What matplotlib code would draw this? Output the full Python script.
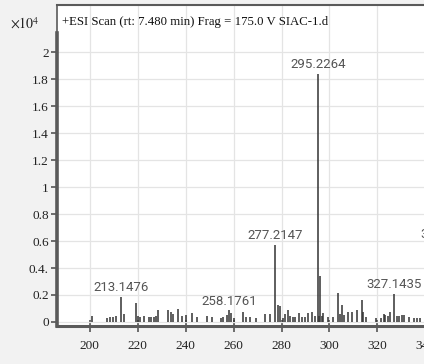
import matplotlib
matplotlib.use("Agg")
import matplotlib.pyplot as plt

# ---- data (intensity in units of 1e4 counts) ----
mz = [200.9, 207.0, 208.4, 209.7, 211.0, 213.15, 214.1, 219.1, 220.2, 220.8,
      222.6, 224.8, 225.6, 226.6, 227.5, 228.6, 232.6, 233.8, 234.9, 236.6,
      238.3, 240.3, 242.7, 244.6, 249.1, 251.0, 254.7, 255.7, 257.1, 258.18,
      259.0, 260.0, 264.0, 265.0, 267.0, 269.2, 273.2, 275.3, 277.21, 278.5,
      279.2, 280.6, 281.5, 282.6, 283.6, 284.6, 285.6, 287.5, 288.7, 289.9,
      291.0, 292.9, 294.0, 295.23, 295.7, 296.0, 296.7, 297.4, 299.6, 301.4,
      303.4, 304.3, 305.3, 306.1, 307.6, 309.4, 311.4, 313.4, 314.2, 315.4,
      319.5, 321.7, 322.6, 323.2, 324.5, 325.2, 327.14, 328.2, 329.0, 330.2,
      331.2, 333.3, 335.2, 336.6, 338.0, 340.2, 341.6]
intensity = [0.047, 0.030, 0.037, 0.040, 0.047, 0.186, 0.060, 0.140, 0.045, 0.037,
             0.047, 0.035, 0.037, 0.037, 0.047, 0.090, 0.090, 0.075, 0.060, 0.097,
             0.047, 0.050, 0.070, 0.035, 0.047, 0.035, 0.030, 0.035, 0.055, 0.085,
             0.067, 0.030, 0.075, 0.035, 0.035, 0.033, 0.060, 0.060, 0.570, 0.125,
             0.120, 0.030, 0.060, 0.090, 0.047, 0.035, 0.035, 0.064, 0.035, 0.035,
             0.070, 0.077, 0.047, 1.840, 0.047, 0.340, 0.047, 0.070, 0.035, 0.035,
             0.215, 0.060, 0.125, 0.055, 0.077, 0.077, 0.085, 0.160, 0.072, 0.035,
             0.030, 0.030, 0.060, 0.055, 0.045, 0.075, 0.210, 0.045, 0.045, 0.050,
             0.055, 0.037, 0.030, 0.030, 0.030, 0.030, 0.030]

label_mz = [213.15, 258.18, 277.21, 295.23, 327.14]
label_int = [0.186, 0.085, 0.570, 1.840, 0.210]
label_text = ["213.1476", "258.1761", "277.2147", "295.2264", "327.1435"]

xticks = [200, 220, 240, 260, 280, 300, 320, 340]
yticks = [0, 0.2, 0.4, 0.6, 0.8, 1.0, 1.2, 1.4, 1.6, 1.8, 2.0]
ytick_labels = ["0", "0.2", "0.4.", "0.6", "0.8", "1", "1.2", "1.4", "1.6", "1.8", "2"]

title = "+ESI Scan (rt: 7.480 min) Frag = 175.0 V SIAC-1.d"

plt.rcParams['mathtext.fontset'] = 'stix'
serif = "Liberation Serif"

fig = plt.figure(figsize=(4.24, 3.64), dpi=100, facecolor="#f2f2f2")
ax = fig.add_axes([57/424, 38/364, 1 - 57/424 + 0.02, (326-5)/364])
ax.set_facecolor("white")

ax.vlines(mz, 0, intensity, colors="#333333", linewidth=1.1, zorder=3)

for x, y, t in zip(label_mz, label_int, label_text):
    ax.annotate(t, (x, y), xytext=(0, 2), textcoords="offset points",
                ha="center", va="bottom", fontsize=9.5, family="Roboto",
                color="#555555", zorder=4)

ax.set_xlim(186.3, 343.0)
ax.set_ylim(-0.03, 2.35)
ax.set_xticks(xticks)
ax.set_xticklabels([str(v) for v in xticks], family=serif, fontsize=9.5, color="#222222")
ax.set_yticks(yticks)
ax.set_yticklabels(ytick_labels, family=serif, fontsize=9.5, color="#222222")
ax.tick_params(axis="x", direction="inout", length=8, width=1.2, color="#555555", pad=6)
ax.tick_params(axis="y", direction="out", length=4, width=1.2, color="#555555", pad=2)

ax.grid(True, color="#e4e4e4", linewidth=0.9, zorder=0)
ax.set_axisbelow(True)

ax.spines["right"].set_visible(False)
ax.spines["left"].set_linewidth(2.6)
ax.spines["left"].set_color("#5a5a5a")
ax.spines["left"].set_bounds(-0.03, 2.14)
ax.plot([0, 0], [0.9, 1.0], transform=ax.transAxes, color="#5a5a5a",
        linewidth=1.2, clip_on=False, zorder=5)
ax.spines["bottom"].set_linewidth(2.2)
ax.spines["bottom"].set_color("#5a5a5a")
ax.spines["top"].set_linewidth(1.5)
ax.spines["top"].set_color("#5a5a5a")

ax.text(0.012, 0.965, title, transform=ax.transAxes, ha="left", va="top",
        family=serif, fontsize=9.2, color="#111111")
fig.text(10/424, 1 - 24/364, r"$\times 10^4$", ha="left", va="center",
         fontsize=10, color="#222222")
fig.text(420/424, 1 - 234/364, "3", ha="left", va="center", fontsize=9.5,
         family="Roboto", color="#555555")

fig.savefig("out.png", dpi=100, facecolor=fig.get_facecolor())
